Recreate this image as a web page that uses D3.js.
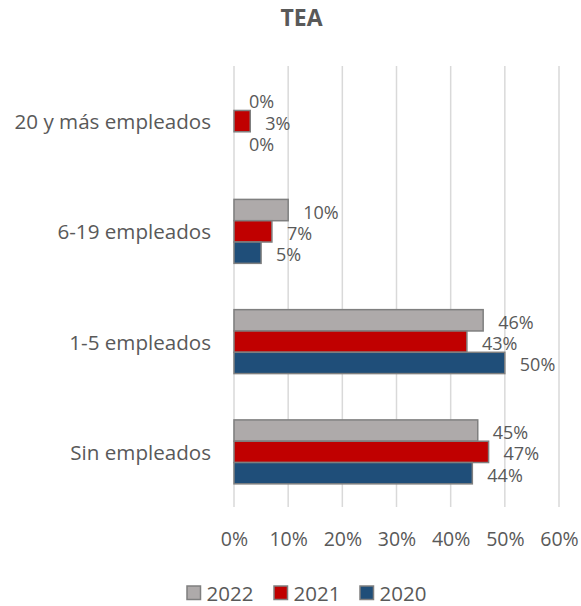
<!DOCTYPE html>
<html>
<head>
<meta charset="utf-8">
<script src="https://cdn.jsdelivr.net/npm/d3@7"></script>
<style>
  html, body { margin: 0; padding: 0; background: #fff; }
  svg text { font-family: "Open Sans", Lato, sans-serif; fill: #595959; }
</style>
</head>
<body>
<svg id="chart" width="581" height="606"></svg>
<script>
// Categories, top to bottom
const categories = ["20 y más empleados", "6-19 empleados", "1-5 empleados", "Sin empleados"];
// Series (percent), in category order
const seriesNames = ["2022", "2021", "2020"];
const values2022 = [0, 10, 46, 45];
const values2021 = [3, 7, 43, 47];
const values2020 = [0, 5, 50, 44];
const tickValues = [0, 10, 20, 30, 40, 50, 60];
const seriesColors = ["#AEAAAA", "#C00000", "#1F4E79"];

const series = [values2022, values2021, values2020];

const svg = d3.select("#chart");
const margin = { left: 234, right: 22, top: 66, bottom: 99 };
const W = 581, H = 606;

const x = d3.scaleLinear().domain([0, 60]).range([margin.left, W - margin.right]);
const y = d3.scaleBand().domain(categories).range([margin.top, H - margin.bottom])
  .paddingInner(0.42).paddingOuter(0.21);
const ySub = d3.scaleBand().domain(seriesNames).range([0, y.bandwidth()]);

// Title
svg.append("text")
  .attr("x", 301.5).attr("y", 17)
  .attr("text-anchor", "middle").attr("dominant-baseline", "central")
  .style("font-size", "23px").style("font-weight", "bold")
  .text("TEA");

// Vertical gridlines
svg.append("g")
  .selectAll("line")
  .data(tickValues)
  .join("line")
  .attr("x1", d => x(d)).attr("x2", d => x(d))
  .attr("y1", margin.top).attr("y2", H - margin.bottom)
  .attr("stroke", "#D9D9D9").attr("stroke-width", 1.5);

// X axis tick labels
const xAxis = d3.axisBottom(x).tickValues(tickValues).tickSize(0).tickPadding(0)
  .tickFormat(d => d + "%");
const gx = svg.append("g")
  .attr("transform", `translate(0,${H - margin.bottom})`)
  .call(xAxis);
gx.select(".domain").remove();
gx.selectAll("text")
  .attr("y", 31).attr("dy", null)
  .attr("dominant-baseline", "central")
  .style("font-size", "19.5px").attr("fill", null);

// Y axis category labels
const yAxis = d3.axisLeft(y).tickSize(0).tickPadding(23);
const gy = svg.append("g")
  .attr("transform", `translate(${margin.left},0)`)
  .call(yAxis);
gy.select(".domain").remove();
gy.selectAll("text")
  .attr("dy", null).attr("dominant-baseline", "central")
  .style("font-size", "20.6px").attr("fill", null);

// Bars
const groups = svg.append("g")
  .selectAll("g")
  .data(seriesNames)
  .join("g");

groups.each(function(name, si) {
  const g = d3.select(this);
  const vals = series[si];
  g.selectAll("rect")
    .data(vals)
    .join("rect")
    .attr("x", x(0))
    .attr("y", (d, i) => y(categories[i]) + ySub(name))
    .attr("width", d => x(d) - x(0))
    .attr("height", ySub.bandwidth())
    .attr("fill", seriesColors[si])
    .attr("stroke", d => d > 0 ? "#7F7F7F" : "none")
    .attr("stroke-width", 1.5);
  g.selectAll("text")
    .data(vals)
    .join("text")
    .attr("x", d => x(d) + 15)
    .attr("y", (d, i) => y(categories[i]) + ySub(name) + ySub.bandwidth() / 2 + 1.5)
    .attr("dominant-baseline", "central")
    .style("font-size", "18px")
    .text(d => d + "%");
});

// Legend
const legendItems = [
  { name: "2022", color: seriesColors[0], x: 187 },
  { name: "2021", color: seriesColors[1], x: 274 },
  { name: "2020", color: seriesColors[2], x: 360 }
];
const lg = svg.append("g").selectAll("g").data(legendItems).join("g")
  .attr("transform", d => `translate(${d.x},592.5)`);
lg.append("rect")
  .attr("x", 0).attr("y", -6.5).attr("width", 13.5).attr("height", 13.5)
  .attr("fill", d => d.color).attr("stroke", "#7F7F7F").attr("stroke-width", 1.5);
lg.append("text")
  .attr("x", 19.5).attr("y", 0).attr("dominant-baseline", "central")
  .style("font-size", "20.5px")
  .text(d => d.name);
</script>
</body>
</html>
